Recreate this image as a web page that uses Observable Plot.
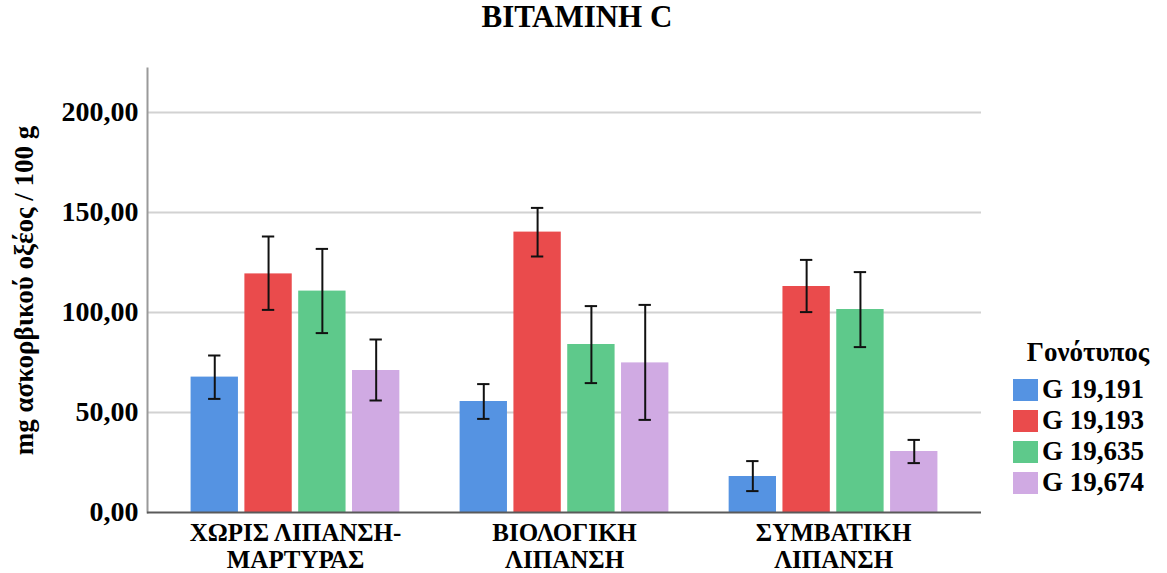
<!DOCTYPE html>
<html><head><meta charset="utf-8">
<script src="https://cdn.jsdelivr.net/npm/d3@7"></script>
<script src="https://cdn.jsdelivr.net/npm/@observablehq/plot@0.6"></script>
<style>
body{margin:0;background:#fff;}
#wrap{position:relative;width:1167px;height:573px;font-family:"Liberation Serif","Times New Roman",serif;font-weight:bold;color:#000;}
#title{position:absolute;left:377px;width:400px;top:2px;text-align:center;font-size:31px;line-height:30px;}
#legend{position:absolute;left:1013px;top:337px;width:150px;font-size:27px;}
#legend .hd{text-align:center;height:31px;line-height:31px;margin-bottom:6px;}
#legend .row{display:flex;align-items:center;height:31px;line-height:31px;}
#legend .sw{width:25px;height:22px;margin-right:4px;flex:none;}
</style></head><body>
<div id="wrap"><div id="title">ΒΙΤΑΜΙΝΗ C</div><div id="legend"></div></div>
<script>
const groups = ["ΧΩΡΙΣ ΛΙΠΑΝΣΗ-\nΜΑΡΤΥΡΑΣ", "ΒΙΟΛΟΓΙΚΗ\nΛΙΠΑΝΣΗ", "ΣΥΜΒΑΤΙΚΗ\nΛΙΠΑΝΣΗ"];
const genotypes = ["G 19,191", "G 19,193", "G 19,635", "G 19,674"];
const colors = ["#5593e2", "#ea4b4c", "#5ec98b", "#d0aae3"];
const yTicks = [0, 50, 100, 150, 200];
// means per genotype, one value per group
const mean191 = [67.7, 55.5, 18.0];
const mean193 = [119.3, 140.2, 113.0];
const mean635 = [110.7, 84.0, 101.5];
const mean674 = [71.0, 74.8, 30.5];
// error bar lower / upper limits
const low191 = [56.8, 46.8, 10.7];
const high191 = [78.5, 64.2, 25.7];
const low193 = [101.3, 128.0, 100.2];
const high193 = [138.0, 152.3, 126.3];
const low635 = [89.7, 64.7, 82.7];
const high635 = [131.8, 103.2, 120.2];
const low674 = [56.0, 46.3, 24.7];
const high674 = [86.5, 103.8, 36.3];

const means = [mean191, mean193, mean635, mean674];
const lows = [low191, low193, low635, low674];
const highs = [high191, high193, high635, high674];

const rows = [];
const domain = [];
groups.forEach((g, gi) => {
  genotypes.forEach((gt, k) => {
    const key = gi + "|" + k;
    domain.push(key);
    rows.push({key, group: g, genotype: gt, mean: means[k][gi], lo: lows[k][gi], hi: highs[k][gi]});
  });
  if (gi < groups.length - 1) domain.push("gap" + gi);
});
const labelRows = groups.map((g, gi) => ({key: gi + "|1", text: g}));

const font = '"Liberation Serif","Times New Roman",serif';
const chart = Plot.plot({
  width: 1167, height: 573,
  marginTop: 68, marginBottom: 61, marginLeft: 147, marginRight: 186,
  style: {fontFamily: font, background: "transparent"},
  x: {domain, paddingInner: 0.12, paddingOuter: 0.81, round: false, axis: null},
  y: {domain: [0, 222], axis: null},
  color: {domain: genotypes, range: colors},
  marks: [
    Plot.ruleY([50, 100, 150, 200], {stroke: "#d2d2d2", strokeWidth: 2}),
    Plot.barY(rows, {x: "key", y: "mean", fill: "genotype"}),
    Plot.ruleX(rows, {x: "key", y1: "lo", y2: "hi", stroke: "#111", strokeWidth: 2}),
    Plot.tickY(rows, {x: "key", y: "lo", stroke: "#111", strokeWidth: 2, insetLeft: 17.5, insetRight: 17.5}),
    Plot.tickY(rows, {x: "key", y: "hi", stroke: "#111", strokeWidth: 2, insetLeft: 17.5, insetRight: 17.5}),
    Plot.frame({anchor: "left", stroke: "#9a9a9a", strokeWidth: 2}),
    Plot.ruleY([0], {stroke: "#5a5a5a", strokeWidth: 2}),
    Plot.axisY({ticks: yTicks, tickSize: 0, tickPadding: 9, tickFormat: d => d3.format(".2f")(d).replace(".", ","), fontSize: 28, fontWeight: "bold", label: null, fill: "#000"}),
    Plot.text(["mg ασκορβικού οξέος / 100 g"], {frameAnchor: "left", textAnchor: "middle", rotate: -90, dx: -123, fontSize: 27, fontWeight: "bold", fill: "#000"}),
    Plot.text(labelRows, {x: "key", text: "text", frameAnchor: "bottom", dx: 27, dy: 9, lineAnchor: "top", lineHeight: 1.08, fontSize: 25, fontWeight: "bold", fill: "#000"})
  ]
});
chart.style.position = "absolute";
chart.style.left = "0px";
chart.style.top = "0px";
document.getElementById("wrap").prepend(chart);

const legend = document.getElementById("legend");
const hd = document.createElement("div");
hd.className = "hd"; hd.textContent = "Γονότυπος";
legend.appendChild(hd);
genotypes.forEach((g, i) => {
  const r = document.createElement("div"); r.className = "row";
  const s = document.createElement("div"); s.className = "sw"; s.style.background = colors[i];
  const t = document.createElement("span"); t.textContent = g;
  r.appendChild(s); r.appendChild(t); legend.appendChild(r);
});
</script>
</body></html>
